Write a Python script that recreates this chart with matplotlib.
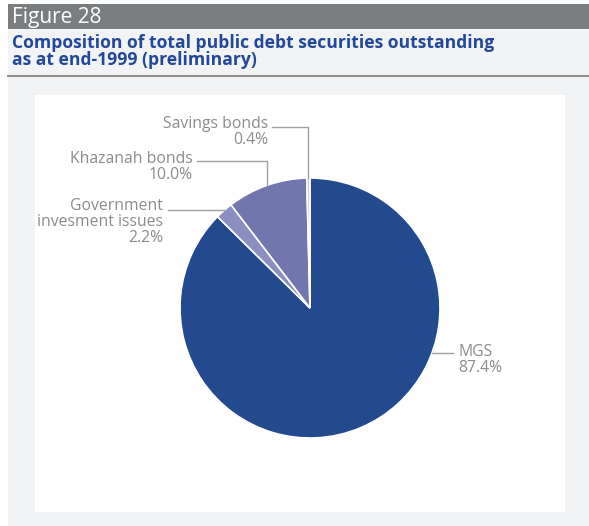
import numpy as np
import matplotlib
matplotlib.use("Agg")
import matplotlib.pyplot as plt
from matplotlib.patches import Rectangle

# Debt securities outstanding, end-1999 (% share)
labels = ["MGS", "Government\ninvesment issues", "Khazanah bonds", "Savings bonds"]
shares = [87.4, 2.2, 10.0, 0.4]
colors = ["#234a8e", "#8a8ec0", "#7276ae", "#cdd0e6"]

W, H = 589, 526
fig = plt.figure(figsize=(W / 100, H / 100), dpi=100)
fig.patch.set_facecolor("white")


def px_rect(x0, y0, x1, y1):
    # pixel box (top-left origin) -> figure fraction
    return [x0 / W, 1 - y1 / H, (x1 - x0) / W, (y1 - y0) / H]


# background panel, header bar, separator
bg = fig.add_axes([0, 0, 1, 1])
bg.set_xlim(0, W)
bg.set_ylim(H, 0)
bg.axis("off")
bg.add_patch(Rectangle((8, 4), W - 8, H - 4, color="#f2f3f5", lw=0))
bg.add_patch(Rectangle((8, 4), W - 8, 25, color="#7b7e81", lw=0))
bg.plot([8, W], [76, 76], color="#8c8c8c", lw=1.4)
bg.add_patch(Rectangle((35, 95), 530, 417, color="white", lw=0))

bg.text(12, 17, "Figure 28", color="white", fontsize=15, family="Open Sans",
        weight="medium", va="center", ha="left")
bg.text(12, 43, "Composition of total public debt securities outstanding",
        color="#22489a", fontsize=12.6, family="Open Sans", weight="bold",
        va="center", ha="left")
bg.text(12, 60, "as at end-1999 (preliminary)",
        color="#22489a", fontsize=12.6, family="Open Sans", weight="bold",
        va="center", ha="left")

# pie: centre (310, 308) px, radius 130 px
cx, cy, r = 310, 308, 130
ax = fig.add_axes(px_rect(35, 95, 565, 512))
wedges, _ = ax.pie(shares, colors=colors, startangle=90, counterclock=False,
                   radius=1, center=(0, 0), frame=True,
                   wedgeprops=dict(edgecolor="white", linewidth=1.2))
ax.set_xlim((35 - cx) / r, (565 - cx) / r)
ax.set_ylim((cy - 512) / r, (cy - 95) / r)
ax.axis("off")

# mid angles of each wedge
mids = [np.deg2rad((w.theta1 + w.theta2) / 2) for w in wedges]

tcol = "#8c8c8c"
lcol = "#a0a0a0"
fs = 11.3


def py(p):
    # pixel row -> data y
    return (cy - p) / r


def px(p):
    return (p - cx) / r


def label(x, y, i, ha):
    ax.text(x, y, labels[i] + "\n" + "%.1f%%" % shares[i], color=tcol,
            fontsize=fs, family="Open Sans", ha=ha, va="center",
            linespacing=1.0)


# Savings bonds: vertical leader from the wedge top, then left to the text
a = mids[3]
x0, y0 = np.cos(a), np.sin(a)
ax.plot([x0, x0, px(272)], [y0, py(127), py(127)], color=lcol, lw=1)
label(px(268), py(132), 3, "right")

# Khazanah bonds
a = mids[2]
x0, y0 = np.cos(a), np.sin(a)
ax.plot([x0, x0, px(197)], [y0, py(161), py(161)], color=lcol, lw=1)
label(px(193), py(167), 2, "right")

# Government investment issues: straight horizontal leader
a = mids[1]
x0, y0 = np.cos(a), np.sin(a)
ax.plot([px(168), x0], [y0, y0], color=lcol, lw=1)
label(px(163), py(222), 1, "right")

# MGS: leader leaves the circle at the label's height
ly = py(353)
x0 = np.sqrt(1 - ly ** 2)
ax.plot([x0, px(453)], [ly, ly], color=lcol, lw=1)
label(px(458), py(360), 0, "left")

fig.savefig("out.png", dpi=100, facecolor=fig.get_facecolor())
